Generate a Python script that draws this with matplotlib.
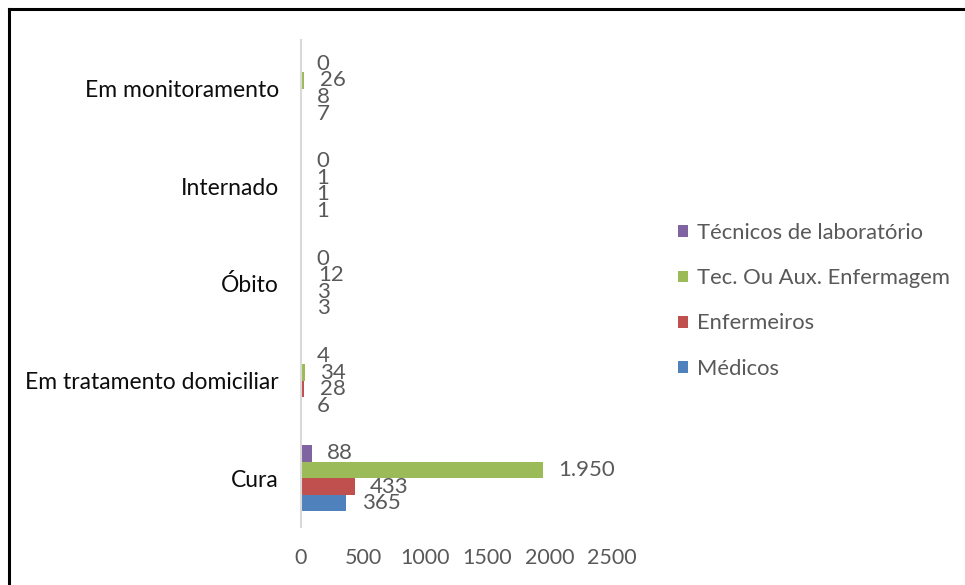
import matplotlib
matplotlib.use("Agg")
import matplotlib.pyplot as plt
from matplotlib.lines import Line2D
import numpy as np

plt.rcParams['font.family'] = ['Lato', 'DejaVu Sans']

categories = ["Cura", "Em tratamento domiciliar", "Óbito", "Internado", "Em monitoramento"]
series_names = ["Médicos", "Enfermeiros", "Tec. Ou Aux. Enfermagem", "Técnicos de laboratório"]
medicos = [365, 6, 3, 1, 7]
enfermeiros = [433, 28, 3, 1, 8]
tec_aux = [1950, 34, 12, 1, 26]
tec_lab = [88, 4, 0, 0, 0]
colors = ["#4f81bd", "#c0504d", "#9bbb59", "#8064a2"]
xticks = [0, 500, 1000, 1500, 2000, 2500]

gray = "#595959"
fig = plt.figure(figsize=(9.65, 5.85), dpi=100)
ax = fig.add_axes([301/965, 1-527/585, 310.5/965, 487/585])

y = np.arange(len(categories))
h = 0.17
all_series = [medicos, enfermeiros, tec_aux, tec_lab]
handles = []
for i, (vals, name, c) in enumerate(zip(all_series, series_names, colors)):
    pos = y + (i - 1.5) * h
    b = ax.barh(pos, vals, height=h, color=c, label=name)
    handles.append(b)
    for p, v in zip(pos, vals):
        ax.annotate(f"{v:,}".replace(",", "."), (v, p), xytext=(11, 0),
                    textcoords="offset points", ha="left", va="center",
                    fontsize=16, color=gray)

ax.set_xlim(0, 2500)
ax.set_ylim(-0.5, len(categories) - 0.5)
ax.set_xticks(xticks)
ax.set_xticklabels([str(t) for t in xticks])
ax.set_yticks(y)
ax.set_yticklabels(categories)
ax.tick_params(axis="x", length=0, pad=15, labelsize=15.5, labelcolor=gray)
ax.tick_params(axis="y", length=0, pad=16, labelsize=16.5, labelcolor="#0d0d0d")
for s in ["top", "right", "bottom"]:
    ax.spines[s].set_visible(False)
ax.spines["left"].set_color("#d9d9d9")
ax.spines["left"].set_linewidth(1.5)

leg = fig.legend(handles[::-1], series_names[::-1], loc="upper left",
                 bbox_to_anchor=(678/965, 1-223/585), frameon=False,
                 borderpad=0, borderaxespad=0,
                 handlelength=0.45, handleheight=0.45, handletextpad=0.42,
                 labelspacing=1.15, fontsize=15.8)
for t in leg.get_texts():
    t.set_color(gray)

fig.add_artist(Line2D([9/965, 9/965], [0, 1-9/585], color="black", lw=2.2, transform=fig.transFigure))
fig.add_artist(Line2D([9/965, 1], [1-9/585, 1-9/585], color="black", lw=2.2, transform=fig.transFigure))

fig.savefig("out.png", dpi=100)
